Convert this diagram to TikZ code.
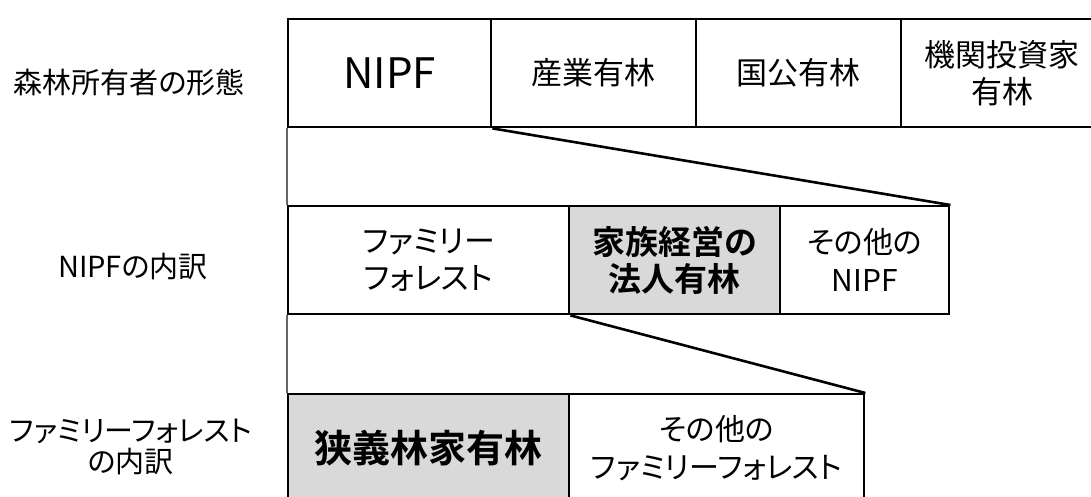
\documentclass[tikz,border=0pt]{standalone}
\usepackage{fontspec}
\setmainfont{Noto Sans CJK JP}[BoldFont={Noto Sans CJK JP Bold},RawFeature={+palt}]
\definecolor{cellgray}{HTML}{D9D9D9}

\begin{document}
\begin{tikzpicture}[x=1pt,y=-1pt,
  cell/.style={draw=black,line width=2.4pt,rectangle,inner sep=0pt,anchor=north west,align=center,minimum height=108pt,font=\fontsize{31}{37}\selectfont},
  boldcell/.style={cell,fill=cellgray,font=\bfseries\fontsize{33}{37}\selectfont},
  rowlabel/.style={align=center,font=\fontsize{29}{31}\selectfont},
  zoomline/.style={line width=2.6pt},
  sideline/.style={draw=black!60,line width=1.2pt}]
\useasboundingbox (0,0) rectangle (1091,496);
\clip (0,0) rectangle (1091,496);

\node[rowlabel] (lab1) at (129,82) {森林所有者の形態};
\node[rowlabel] (lab2) at (133,267) {NIPFの内訳};
\node[rowlabel] (lab3) at (131,447) {ファミリーフォレスト\\の内訳};

% owner types
\node[cell,minimum width=203pt,font=\fontsize{42}{44}\selectfont] (nipf) at (287,18) {NIPF};
\node[cell,minimum width=205pt] (ind) at (490,18) {産業有林};
\node[cell,minimum width=205pt] (pub) at (695,18) {国公有林};
\node[cell,minimum width=202pt] (inv) at (900,18) {機関投資家\\有林};

% NIPF breakdown
\node[cell,minimum width=281pt] (fam) at (287,205) {ファミリー\\フォレスト};
\node[boldcell,minimum width=211pt] (corp) at (568,205) {家族経営の\\法人有林};
\node[cell,minimum width=169pt,font=\fontsize{30}{38}\selectfont] (oth) at (779,205) {その他の\\NIPF};

% family forest breakdown
\node[boldcell,minimum width=281pt,font=\bfseries\fontsize{38}{40}\selectfont] (narrow) at (287,393) {狭義林家有林};
\node[cell,minimum width=295pt,font=\fontsize{30}{38}\selectfont] (othfam) at (568,393) {その他の\\ファミリーフォレスト};

\draw[sideline] (nipf.south west) -- (fam.north west);
\draw[zoomline] (nipf.south east) -- (oth.north east);
\draw[sideline] (fam.south west) -- (narrow.north west);
\draw[zoomline] (fam.south east) -- (othfam.north east);

\end{tikzpicture}
\end{document}
